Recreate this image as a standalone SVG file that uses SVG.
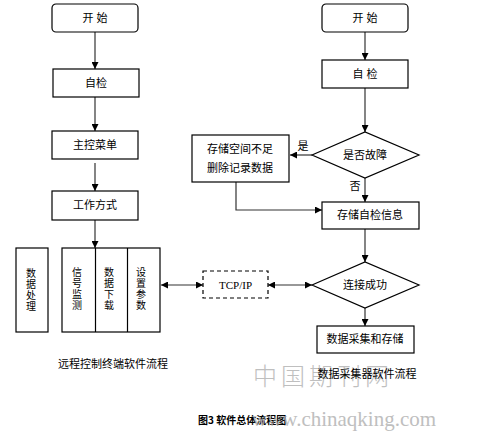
<svg xmlns="http://www.w3.org/2000/svg" width="479" height="432" viewBox="0 0 479 432">
<style>
.b{fill:#fff;stroke:#000;stroke-width:1.2}
.t{font-family:"Liberation Sans","Noto Sans CJK SC",sans-serif;font-size:11px;fill:#000;text-anchor:middle}
.v{font-family:"Noto Sans CJK SC",sans-serif;font-size:10px;fill:#000;writing-mode:vertical-rl;letter-spacing:1px}
.l{fill:none;stroke:#333;stroke-width:1.2}
.wm{font-family:"Liberation Serif","Noto Sans CJK SC",serif;fill:#aaa;opacity:0.75}
</style>
<defs>
<marker id="a" viewBox="0 0 10 10" refX="10" refY="5" markerWidth="7" markerHeight="7" orient="auto-start-reverse" markerUnits="userSpaceOnUse">
<path d="M0,0 L10,5 L0,10 z" fill="#000"/>
</marker>
</defs>
<rect width="479" height="432" fill="#fff"/>
<g id="connectors">
<line class="l" x1="95" y1="32" x2="95" y2="69" marker-end="url(#a)"/>
<line class="l" x1="95" y1="97" x2="95" y2="131" marker-end="url(#a)"/>
<line class="l" x1="95" y1="163" x2="95" y2="191" marker-end="url(#a)"/>
<line class="l" x1="95" y1="220" x2="95" y2="248" marker-end="url(#a)"/>
<line class="l" x1="161" y1="285" x2="203" y2="285" marker-start="url(#a)" marker-end="url(#a)"/>
<line class="l" x1="268" y1="285" x2="312" y2="285" marker-start="url(#a)" marker-end="url(#a)"/>
<line class="l" x1="365" y1="32" x2="365" y2="60" marker-end="url(#a)"/>
<line class="l" x1="365" y1="88" x2="365" y2="132" marker-end="url(#a)"/>
<line class="l" x1="312" y1="155" x2="290" y2="155" marker-end="url(#a)"/>
<line class="l" x1="365" y1="178" x2="365" y2="202" marker-end="url(#a)"/>
<polyline class="l" points="236,182 236,210 322,210" marker-end="url(#a)"/>
<line class="l" x1="365" y1="229" x2="365" y2="262" marker-end="url(#a)"/>
<line class="l" x1="365" y1="308" x2="365" y2="326" marker-end="url(#a)"/>
<text class="t" x="303" y="150">是</text>
<text class="t" x="355" y="190">否</text>
</g>
<g id="l-start"><rect class="b" x="52" y="4" width="86" height="28" rx="4"/><text class="t" x="95" y="22">开  始</text></g>
<g id="l-check"><rect class="b" x="53" y="69" width="86" height="28"/><text class="t" x="96" y="87">自检</text></g>
<g id="l-menu"><rect class="b" x="52" y="131" width="86" height="28"/><text class="t" x="95" y="149">主控菜单</text></g>
<g id="l-mode"><rect class="b" x="52" y="191" width="86" height="29"/><text class="t" x="95" y="209">工作方式</text></g>
<g id="l-proc"><rect class="b" x="16" y="248" width="32" height="84"/>
<text class="v" x="31" y="268">数据处理</text></g>
<g id="l-funcs"><rect class="b" x="62" y="248" width="98" height="84"/>
<line x1="95.5" y1="248" x2="95.5" y2="332" stroke="#000" stroke-width="1.2"/>
<line x1="127.5" y1="248" x2="127.5" y2="332" stroke="#000" stroke-width="1.2"/>
<text class="v" x="77" y="267">信号监测</text>
<text class="v" x="109" y="267">数据下载</text>
<text class="v" x="141" y="267">设置参数</text></g>
<g id="tcp"><rect x="203" y="271" width="65" height="27" fill="#fff" stroke="#000" stroke-width="1.2" stroke-dasharray="4,3"/>
<text x="235.5" y="289" font-family="Liberation Serif,serif" font-size="11" text-anchor="middle">TCP/IP</text></g>
<g id="r-start"><rect class="b" x="322" y="4" width="86" height="28" rx="4"/><text class="t" x="365" y="22">开  始</text></g>
<g id="r-check"><rect class="b" x="322" y="60" width="86" height="28"/><text class="t" x="365" y="78">自  检</text></g>
<g id="r-fault"><polygon class="b" points="312,155 365,132 419,155 365,178"/><text class="t" x="365" y="159">是否故障</text></g>
<g id="r-space"><rect class="b" x="192" y="135" width="97" height="47"/><text class="t" x="240" y="153">存储空间不足</text><text class="t" x="240" y="172">删除记录数据</text></g>
<g id="r-store"><rect class="b" x="322" y="202" width="97" height="27"/><text class="t" x="370" y="219">存储自检信息</text></g>
<g id="r-conn"><polygon class="b" points="312,285 365,262 419,285 365,308"/><text class="t" x="365" y="289">连接成功</text></g>
<g id="r-acq"><rect class="b" x="317" y="326" width="97" height="27"/><text class="t" x="365" y="343">数据采集和存储</text></g>
<text class="t" x="113" y="368">远程控制终端软件流程</text>
<text class="wm" x="253" y="385" font-size="24" letter-spacing="4" font-weight="300">中国期刊网</text>
<text class="t" x="367" y="378">数据采集器软件流程</text>
<text x="198" y="424" font-family="Noto Sans CJK SC,sans-serif" font-size="10" font-weight="bold">图3 软件总体流程图</text>
<text class="wm" x="252" y="426" font-family="Liberation Mono,monospace" font-size="21">www.chinaqking.com</text>
</svg>
